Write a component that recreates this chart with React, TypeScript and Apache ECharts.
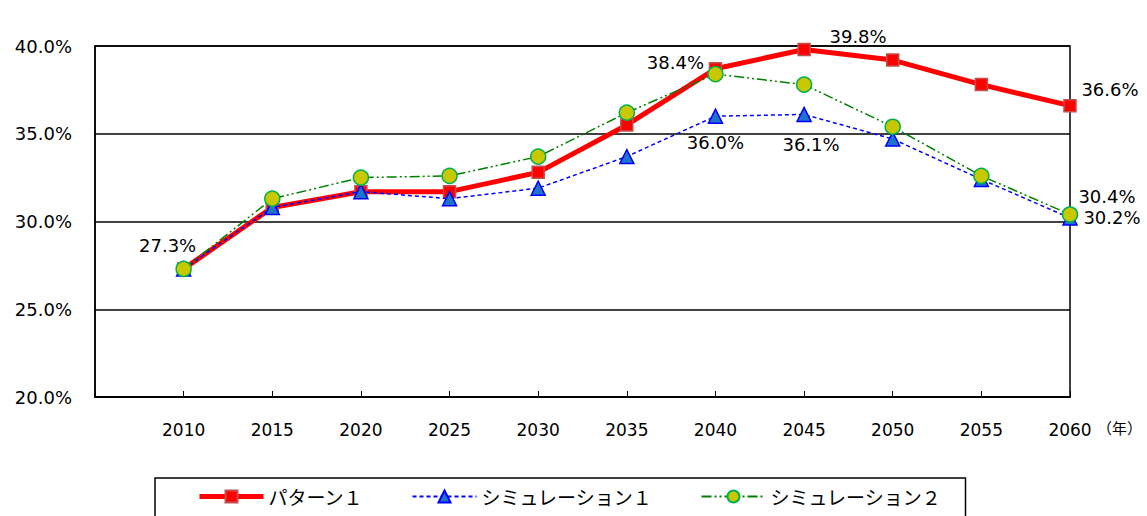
import React, { useEffect, useRef } from "react";
import * as echarts from "echarts";

const years = [2010, 2015, 2020, 2025, 2030, 2035, 2040, 2045, 2050, 2055, 2060];
const pattern1 = [27.3, 30.8, 31.7, 31.7, 32.8, 35.5, 38.7, 39.8, 39.2, 37.8, 36.6];
const sim1 = [27.3, 30.8, 31.7, 31.3, 31.9, 33.7, 36.0, 36.1, 34.7, 32.4, 30.2];
const sim2 = [27.3, 31.3, 32.5, 32.6, 33.7, 36.2, 38.4, 37.8, 35.4, 32.6, 30.4];
const seriesNames = ["パターン１", "シミュレーション１", "シミュレーション２"];
const yTicks = [20, 25, 30, 35, 40];
const markYears = [2040, 2045];

// labelled points: [seriesIndex, year, offsetX, offsetY]
const labelled: [number, number, number, number][] = [
  [0, 2045, 54, -13],
  [0, 2060, 40, -16],
  [2, 2040, -40, -12],
  [2, 2010, -16, -23],
  [2, 2060, 37, -18],
  [1, 2040, 0, 26],
  [1, 2045, 7, 30],
  [1, 2060, 42, 0],
];

const FONT = "DejaVu Sans";

function buildData(si: number, vals: number[]) {
  return years.map((y, i) => {
    const l = labelled.find((e) => e[0] === si && e[1] === y);
    const item: any = { value: [y, vals[i]] };
    if (l) {
      item.label = {
        show: true,
        position: "inside",
        offset: [l[2], l[3]],
        formatter: () => vals[i].toFixed(1) + "%",
        color: "#000",
        fontSize: 18,
        fontFamily: FONT,
      };
    }
    return item;
  });
}

export default function App() {
  const ref = useRef<HTMLDivElement>(null);
  useEffect(() => {
    if (!ref.current) return;
    const chart = echarts.init(ref.current, undefined, { renderer: "svg" });
    chart.setOption({
      animation: false,
      backgroundColor: "#fff",
      grid: {
        left: 95,
        top: 46,
        right: 77,
        bottom: 119,
        show: true,
        borderColor: "#000",
        borderWidth: 1.5,
      },
      xAxis: {
        type: "value",
        min: 2005,
        max: 2060,
        interval: 5,
        axisLine: { lineStyle: { color: "#000", width: 1.5 } },
        axisTick: { inside: true, length: 6, lineStyle: { color: "#000" } },
        splitLine: { show: false },
        axisLabel: {
          color: "#000",
          fontSize: 17,
          fontFamily: FONT,
          margin: 24,
          formatter: (v: number) => (v >= years[0] ? String(v) : ""),
        },
      },
      yAxis: {
        type: "value",
        min: yTicks[0],
        max: yTicks[yTicks.length - 1],
        interval: 5,
        axisLine: { show: true, lineStyle: { color: "#000", width: 1.5 } },
        axisTick: { show: false },
        splitLine: { lineStyle: { color: "#000", width: 1.5 } },
        axisLabel: {
          color: "#000",
          fontSize: 18,
          fontFamily: FONT,
          margin: 23,
          formatter: (v: number) => v.toFixed(1) + "%",
        },
      },
      legend: {
        left: 155,
        top: 478,
        padding: [9, 24, 30, 42],
        borderColor: "#000",
        borderWidth: 1.5,
        itemWidth: 64,
        itemHeight: 15,
        itemGap: 48,
        textStyle: { fontSize: 19, color: "#000", fontFamily: "Noto Sans CJK JP" },
        data: [
          { name: seriesNames[0], lineStyle: { width: 5 } },
          { name: seriesNames[1] },
          { name: seriesNames[2] },
        ],
      },
      graphic: [
        {
          type: "text",
          left: 1097,
          top: 420,
          style: { text: "（年）", fill: "#000", font: "15px 'Noto Sans CJK JP'" },
        },
      ],
      series: [
        {
          name: seriesNames[0],
          type: "line",
          clip: false,
          data: buildData(0, pattern1),
          symbol: "rect",
          symbolSize: 12,
          lineStyle: { color: "#ff0000", width: 5 },
          itemStyle: { color: "#ff0000", borderColor: "#c0504d", borderWidth: 1.5 },
          z: 2,
          markLine: {
            silent: true,
            symbol: "none",
            label: { show: false },
            lineStyle: { color: "#808080", type: "dotted", width: 1 },
            data: markYears.map((y) => [
              { coord: [y, 42.05] },
              { coord: [y, yTicks[0]] },
            ]),
          },
        },
        {
          name: seriesNames[1],
          type: "line",
          clip: false,
          data: buildData(1, sim1),
          symbol: "triangle",
          symbolSize: 14,
          lineStyle: { color: "#0000ff", width: 1.5, type: [4, 3] },
          itemStyle: { color: "#1f73c8", borderColor: "#0000ff", borderWidth: 1.5 },
          z: 3,
        },
        {
          name: seriesNames[2],
          type: "line",
          clip: false,
          data: buildData(2, sim2),
          symbol: "circle",
          symbolSize: 15,
          lineStyle: { color: "#008000", width: 1.5, type: [10, 3, 2, 3, 2, 3] },
          itemStyle: { color: "#c8c800", borderColor: "#00b050", borderWidth: 1.5 },
          z: 4,
        },
      ],
    });
    return () => chart.dispose();
  }, []);
  return (
    <div
      ref={ref}
      style={{ position: "fixed", left: 0, top: 0, width: 1147, height: 516, background: "#fff" }}
    />
  );
}
